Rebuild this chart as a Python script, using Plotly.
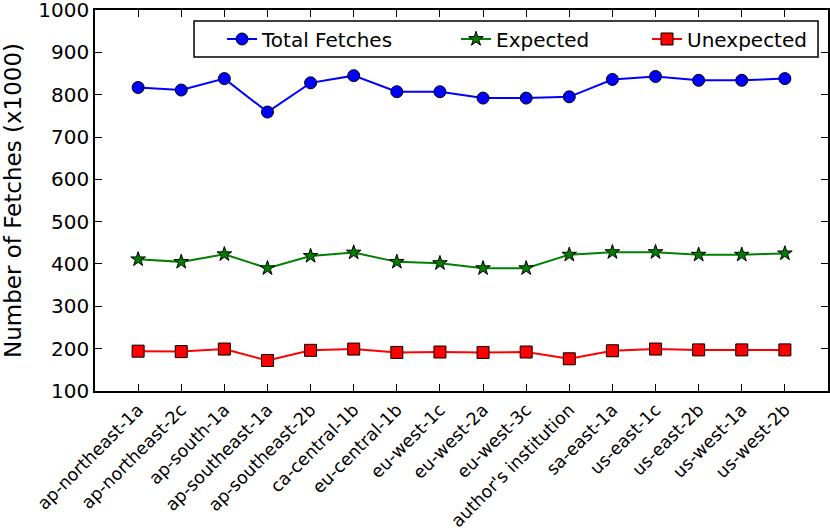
import plotly.graph_objects as go

regions = ["ap-northeast-1a", "ap-northeast-2c", "ap-south-1a", "ap-southeast-1a",
           "ap-southeast-2b", "ca-central-1b", "eu-central-1b", "eu-west-1c",
           "eu-west-2a", "eu-west-3c", "author's institution", "sa-east-1a",
           "us-east-1c", "us-east-2b", "us-west-1a", "us-west-2b"]
total_fetches = [817, 811, 838, 759, 828, 845, 807, 807, 792, 792, 795, 836, 843, 834, 834, 838]
expected = [411, 405, 423, 390, 419, 427, 405, 402, 390, 390, 422, 428, 428, 422, 422, 425]
unexpected = [194, 193, 199, 172, 196, 199, 191, 192, 191, 192, 176, 195, 199, 197, 197, 197]
y_ticks = [100, 200, 300, 400, 500, 600, 700, 800, 900, 1000]

font = "DejaVu Sans"
xs = list(range(len(regions)))
fig = go.Figure()
series = [
    ("Total Fetches", total_fetches, "#0000ff", "circle", 12, "legend", 0.1733),
    ("Expected", expected, "#008000", "star", 11, "legend2", 0.4925),
    ("Unexpected", unexpected, "#ff0000", "square", 12, "legend3", 0.7531),
]
legends = {}
for name, vals, col, sym, sz, lg, lx in series:
    fig.add_trace(go.Scatter(
        x=xs, y=vals, name=name, mode="lines+markers", legend=lg,
        line=dict(color=col, width=2),
        marker=dict(symbol=sym, size=sz, color=col, line=dict(color="black", width=1)),
    ))
    legends[lg] = dict(
        orientation="h", x=lx, xanchor="left", y=0.9239, yanchor="middle",
        bgcolor="rgba(0,0,0,0)", borderwidth=0,
        font=dict(size=20, family=font, color="black"),
    )

fig.update_layout(
    width=830, height=531,
    margin=dict(l=95, r=2, t=10, b=140),
    paper_bgcolor="white", plot_bgcolor="white",
    font=dict(family=font, color="black"),
    showlegend=True,
    **legends,
)
# legend frame
fig.add_shape(type="rect", xref="paper", yref="paper", x0=0.1351, x1=0.9864, y0=0.8766, y1=0.9711,
              line=dict(color="black", width=1.5), fillcolor="white", layer="above")
fig.update_xaxes(
    range=[-1, len(regions)], tickmode="array", tickvals=xs, ticktext=regions,
    tickangle=-45, tickfont=dict(size=17.5, family=font, color="black"),
    automargin=False,
    showgrid=False, zeroline=False, showline=True, linecolor="black", linewidth=1.5,
    mirror="ticks", ticks="inside", ticklen=7, tickcolor="black", tickwidth=1,
)
fig.update_yaxes(
    range=[99.9, 1000.1], tickmode="array", tickvals=y_ticks,
    tickfont=dict(size=20, family=font, color="black"),
    automargin=False, ticklabeloverflow="allow",
    title=dict(text="Number of Fetches (x1000)", font=dict(size=23, family=font, color="black"), standoff=10),
    showgrid=False, zeroline=False, showline=True, linecolor="black", linewidth=1.5,
    mirror="ticks", ticks="inside", ticklen=7, tickcolor="black", tickwidth=1,
)
fig.write_html("out.html", config={"displayModeBar": False},
               post_script="document.body.style.margin='0';")
